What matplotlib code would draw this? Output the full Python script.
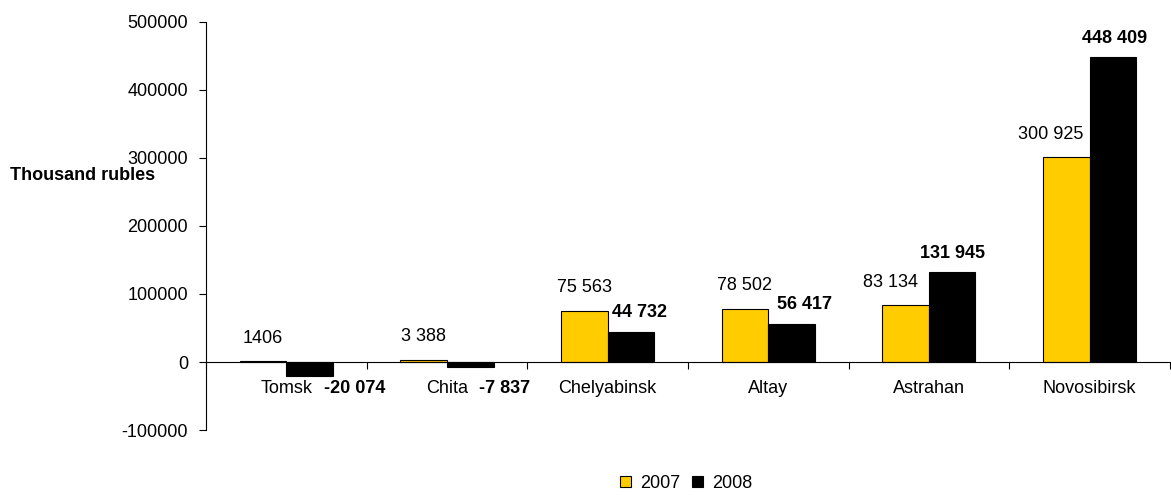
import numpy as np
import matplotlib
matplotlib.use("Agg")
import matplotlib.pyplot as plt

plt.rcParams['font.family'] = ['Liberation Sans', 'DejaVu Sans']

regions = ['Tomsk', 'Chita', 'Chelyabinsk', 'Altay', 'Astrahan', 'Novosibirsk']
v2007 = [1406, 3388, 75563, 78502, 83134, 300925]
v2008 = [-20074, -7837, 44732, 56417, 131945, 448409]
lbl2007 = ['1406', '3 388', '75 563', '78 502', '83 134', '300 925']
lbl2008 = ['-20 074', '-7 837', '44 732', '56 417', '131 945', '448 409']
yticks = [-100000, 0, 100000, 200000, 300000, 400000, 500000]

fs = 13
# sideways nudges of the value labels (points), as Excel moved them
dx2007 = [0, 0, 0, 0, -11, -11]
dx2008 = [0, 0, 6, 9, 0, 1.5]

fig = plt.figure(figsize=(11.71, 4.95), dpi=100)
ax = fig.add_axes([0.176, 0.1313, 0.823, 0.8243])

x = np.arange(len(regions)) + 0.5
w = 0.29
b1 = ax.bar(x - w / 2, v2007, w, color='#FFCC00', edgecolor='black', linewidth=0.8, label='2007')
b2 = ax.bar(x + w / 2, v2008, w, color='black', edgecolor='black', linewidth=0.8, label='2008')

ax.set_xlim(0, len(regions))
ax.set_ylim(-100000, 500000)
ax.set_yticks(yticks)
ax.set_yticklabels([str(t) for t in yticks], fontsize=fs)
ax.tick_params(axis='y', direction='out', length=5, width=0.8, pad=8)

ax.spines['top'].set_visible(False)
ax.spines['right'].set_visible(False)
ax.spines['bottom'].set_position(('data', 0))
ax.spines['left'].set_linewidth(0.8)
ax.spines['bottom'].set_linewidth(0.8)
ax.set_xticks(np.arange(len(regions) + 1))
ax.set_xticklabels([])
ax.tick_params(axis='x', direction='out', length=5, width=0.8)

# category names below the zero line, with the negative values beside them
for i, name in enumerate(regions):
    t = ax.annotate(name, xy=(x[i], 0), xytext=(0, -19), textcoords='offset points',
                    ha='center', va='center', fontsize=fs)
    if v2008[i] < 0:
        ax.annotate(lbl2008[i], xy=(1, 0.5), xycoords=t, xytext=(8, 0),
                    textcoords='offset points', ha='left', va='center',
                    fontsize=fs, fontweight='bold')

for i in range(len(regions)):
    ax.annotate(lbl2007[i], xy=(x[i] - w / 2, max(v2007[i], 0)), xytext=(dx2007[i], 16.5),
                textcoords='offset points', ha='center', va='center', fontsize=fs)
    if v2008[i] >= 0:
        ax.annotate(lbl2008[i], xy=(x[i] + w / 2, v2008[i]), xytext=(dx2008[i], 13.5),
                    textcoords='offset points', ha='center', va='center',
                    fontsize=fs, fontweight='bold')

fig.text(0.0085, 0.646, 'Thousand rubles', ha='left', va='center',
         fontsize=fs, fontweight='bold')

fig.legend(handles=[b1, b2], loc='center', bbox_to_anchor=(0.586, 0.024), ncol=2,
           frameon=False, fontsize=fs, handlelength=0.6, handleheight=0.6,
           handletextpad=0.5, columnspacing=0.7)

fig.savefig('out.png', dpi=100)
